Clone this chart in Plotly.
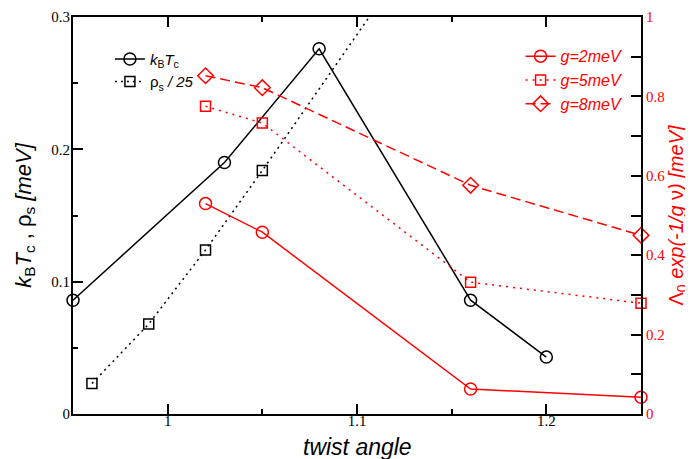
import plotly.graph_objects as go

# ---- data ----
twist_tc = [0.95, 1.03, 1.08, 1.16, 1.20]
kbtc = [0.086, 0.190, 0.276, 0.086, 0.043]

twist_rho = [0.96, 0.99, 1.02, 1.05, 1.16]
rho_over_25 = [0.023, 0.068, 0.124, 0.184, 0.41]

twist_g = [1.02, 1.05, 1.16, 1.25]
g2 = [0.530, 0.458, 0.063, 0.042]
g5 = [0.775, 0.733, 0.332, 0.279]
g8 = [0.852, 0.822, 0.576, 0.450]

x_ticks = [1.0, 1.1, 1.2]
x_tick_labels = ["1", "1.1", "1.2"]
left_ticks = [0, 0.1, 0.2, 0.3]
left_tick_labels = ["0", "0.1", "0.2", "0.3"]
right_ticks = [0, 0.2, 0.4, 0.6, 0.8, 1.0]
right_tick_labels = ["0", "0.2", "0.4", "0.6", "0.8", "1"]

RED = "#ff0000"
SANS = "Liberation Sans, Arial, sans-serif"
SERIF = "Liberation Serif, Times New Roman, serif"

fig = go.Figure()

fig.add_trace(go.Scatter(
    x=twist_tc, y=kbtc, mode="lines+markers",
    name="<i>k</i><sub>B</sub><i>T</i><sub>c</sub>",
    line=dict(color="black", width=1.5),
    marker=dict(symbol="circle-open", size=12, color="black", line=dict(width=1.5)),
    cliponaxis=False, legend="legend",
))
fig.add_trace(go.Scatter(
    x=twist_rho, y=rho_over_25, mode="lines+markers",
    name="ρ<sub>s</sub> <i>/ 25</i>",
    line=dict(color="black", width=1.5, dash="2px,4px"),
    marker=dict(symbol="square-open", size=10, color="black", line=dict(width=1.5)),
    cliponaxis=True, legend="legend",
))

fig.add_trace(go.Scatter(
    x=twist_g, y=g2, mode="lines+markers", yaxis="y2",
    name="<i>g=2meV</i>",
    line=dict(color=RED, width=1.5),
    marker=dict(symbol="circle-open", size=12, color=RED, line=dict(width=1.5)),
    cliponaxis=False, legend="legend2",
))
fig.add_trace(go.Scatter(
    x=twist_g, y=g5, mode="lines+markers", yaxis="y2",
    name="<i>g=5meV</i>",
    line=dict(color=RED, width=1.5, dash="2px,5px"),
    marker=dict(symbol="square-open", size=10, color=RED, line=dict(width=1.5)),
    cliponaxis=False, legend="legend2",
))
fig.add_trace(go.Scatter(
    x=twist_g, y=g8, mode="lines+markers", yaxis="y2",
    name="<i>g=8meV</i>",
    line=dict(color=RED, width=1.5, dash="10px,5px"),
    marker=dict(symbol="diamond-open", size=12, color=RED, line=dict(width=1.5)),
    cliponaxis=False, legend="legend2",
))

# page body has an 8px margin, so the figure is 8px smaller and offset
fig.update_layout(
    width=685, height=451,
    margin=dict(l=65, r=52, t=9, b=45, autoexpand=False),
    paper_bgcolor="white", plot_bgcolor="white",
    showlegend=True,
    legend=dict(x=0.065, y=0.935, xanchor="left", yanchor="top",
                font=dict(family=SANS, size=15, color="black"),
                bgcolor="rgba(0,0,0,0)", tracegroupgap=0, itemwidth=30),
    legend2=dict(x=0.788, y=0.944, xanchor="left", yanchor="top",
                 font=dict(family=SANS, size=16, color=RED),
                 bgcolor="rgba(0,0,0,0)", tracegroupgap=0, itemwidth=30),
    xaxis=dict(
        range=[0.95, 1.25], showgrid=False, zeroline=False, automargin=False,
        showline=True, linecolor="black", linewidth=2, mirror="ticks",
        ticks="inside", ticklen=10, tickwidth=1.5, tickcolor="black",
        tickvals=x_ticks, ticktext=x_tick_labels, ticklabelstandoff=-8,
        minor=dict(ticks="inside", ticklen=5, tickwidth=1.5, dtick=0.05, tick0=0.95, tickcolor="black"),
        tickfont=dict(family=SERIF, size=15, color="black"),
    ),
    yaxis=dict(
        range=[0, 0.3], showgrid=False, zeroline=False, automargin=False,
        showline=True, linecolor="black", linewidth=2,
        ticks="inside", ticklen=10, tickwidth=1.5, tickcolor="black",
        tickvals=left_ticks, ticktext=left_tick_labels, ticklabelstandoff=-2,
        minor=dict(ticks="inside", ticklen=5, tickwidth=1.5, dtick=0.05, tick0=0, tickcolor="black"),
        tickfont=dict(family=SERIF, size=15, color="black"),
        title=dict(text="<i>k</i><sub>B</sub><i>T</i><sub>c</sub> , ρ<sub>s</sub> <i>[meV]</i>",
                   font=dict(family=SANS, size=22, color="black"), standoff=14),
    ),
    yaxis2=dict(
        overlaying="y", side="right", anchor="x", automargin=False,
        range=[0, 1], showgrid=False, zeroline=False,
        showline=True, linecolor="black", linewidth=2,
        ticks="inside", ticklen=10, tickwidth=1.5, tickcolor="black",
        tickvals=right_ticks, ticktext=right_tick_labels,
        minor=dict(ticks="inside", ticklen=10, tickwidth=1.5, dtick=0.1, tick0=0, tickcolor="black"),
        tickfont=dict(family=SERIF, size=15, color=RED),
        title=dict(text="Λ<sub>0</sub> <i>exp(-1/g</i> ν<i>) [meV]</i>",
                   font=dict(family=SANS, size=20, color=RED), standoff=0),
    ),
    annotations=[dict(
        text="<i>twist angle</i>", xref="paper", yref="paper",
        x=0.5, y=-0.083, xanchor="center", yanchor="middle", showarrow=False,
        font=dict(family=SANS, size=23, color="black"),
    )],
)

fig.write_html("out.html")
